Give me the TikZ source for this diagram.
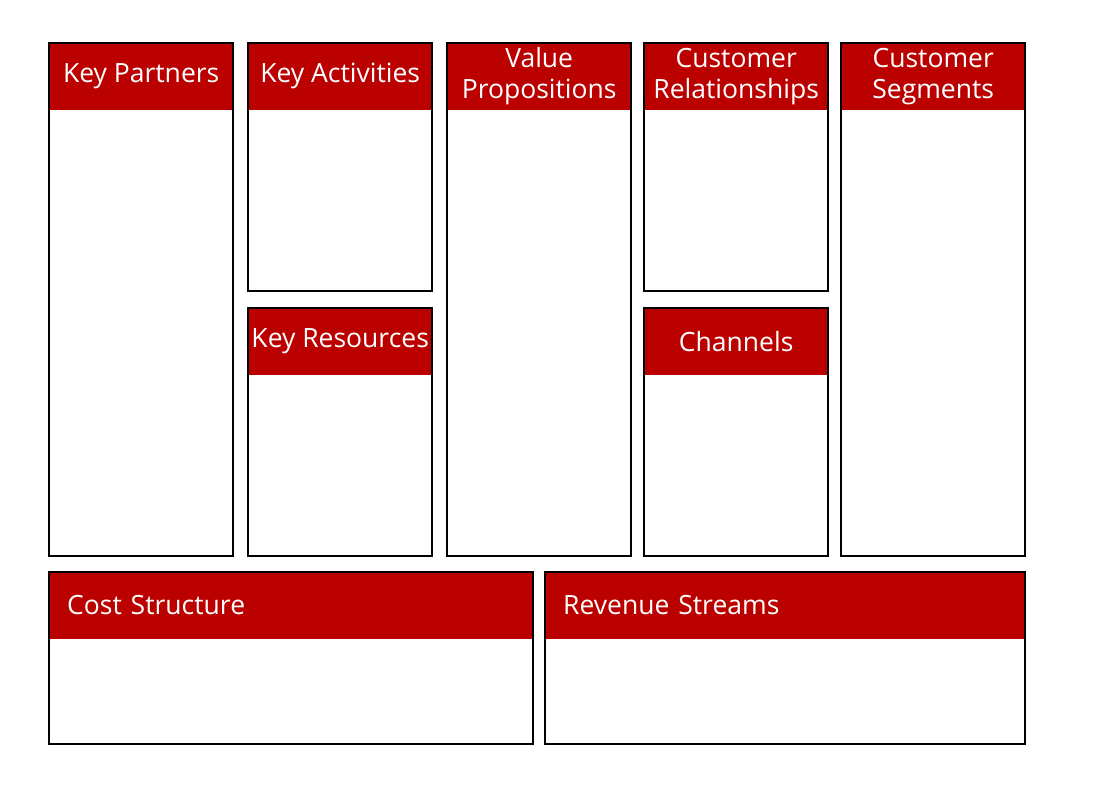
\documentclass[tikz,border=0pt]{standalone}
\usepackage{fontspec}
\setmainfont{Open Sans}
\usepackage{tikz}
\usetikzlibrary{positioning}
\definecolor{canvasred}{RGB}{187,0,0}
\pgfdeclarelayer{bg}
\pgfsetlayers{bg,main}
\tikzset{
  box/.style={
    draw=black, rectangle, line width=2pt,
    anchor=north west, inner sep=0pt
  },
  head/.style={
    rectangle, fill=canvasred, text=white,
    anchor=north west, minimum height=68pt,
    font=\fontsize{26.5}{31}\selectfont, align=center,
    inner sep=0pt
  },
  widehead/.style={
    head, align=left, inner xsep=19pt
  }
}

\begin{document}
\begin{tikzpicture}[x=1pt, y=-1pt]
  \useasboundingbox (0,0) rectangle (1100,798);

  % Top row
  \node[box, minimum width=184pt, minimum height=513pt] (kp) at (48,42) {};
  \node[box, right=13pt of kp.north east, anchor=north west,
        minimum width=184pt, minimum height=248pt] (ka) {};
  \node[box, below=15pt of ka.south west, anchor=north west,
        minimum width=184pt, minimum height=248pt] (kr) {};
  \node[box, right=13pt of ka.north east, anchor=north west,
        minimum width=184pt, minimum height=513pt] (vp) {};
  \node[box, right=11pt of vp.north east, anchor=north west,
        minimum width=184pt, minimum height=248pt] (cr) {};
  \node[box, below=15pt of cr.south west, anchor=north west,
        minimum width=184pt, minimum height=248pt] (ch) {};
  \node[box, right=11pt of cr.north east, anchor=north west,
        minimum width=184pt, minimum height=513pt] (cs) {};

  % Bottom row
  \node[box, below=14pt of kp.south west, anchor=north west,
        minimum width=484pt, minimum height=172pt] (cost) {};
  \node[box, right=10pt of cost.north east, anchor=north west,
        minimum width=480pt, minimum height=172pt] (rev) {};

  % Headers
  \begin{pgfonlayer}{bg}
    \node[head, minimum width=186pt] (kphead) at (kp.north west) {Key Partners};
    \node[head, minimum width=186pt] (kahead) at (ka.north west) {Key Activities};
    \node[head, minimum width=186pt] (krhead) at (kr.north west) {Key Resources};
    \node[head, minimum width=186pt] (vphead) at (vp.north west) {Value\\Propositions};
    \node[head, minimum width=186pt] (crhead) at (cr.north west) {Customer\\Relationships};
    \node[head, minimum width=186pt] (chhead) at (ch.north west) {Channels};
    \node[head, minimum width=186pt] (cshead) at (cs.north west) {Customer\\Segments};
    \node[widehead, text width=448pt] (costhead) at (cost.north west) {Cost Structure};
    \node[widehead, text width=444pt] (revhead) at (rev.north west) {Revenue Streams};
  \end{pgfonlayer}
\end{tikzpicture}
\end{document}
